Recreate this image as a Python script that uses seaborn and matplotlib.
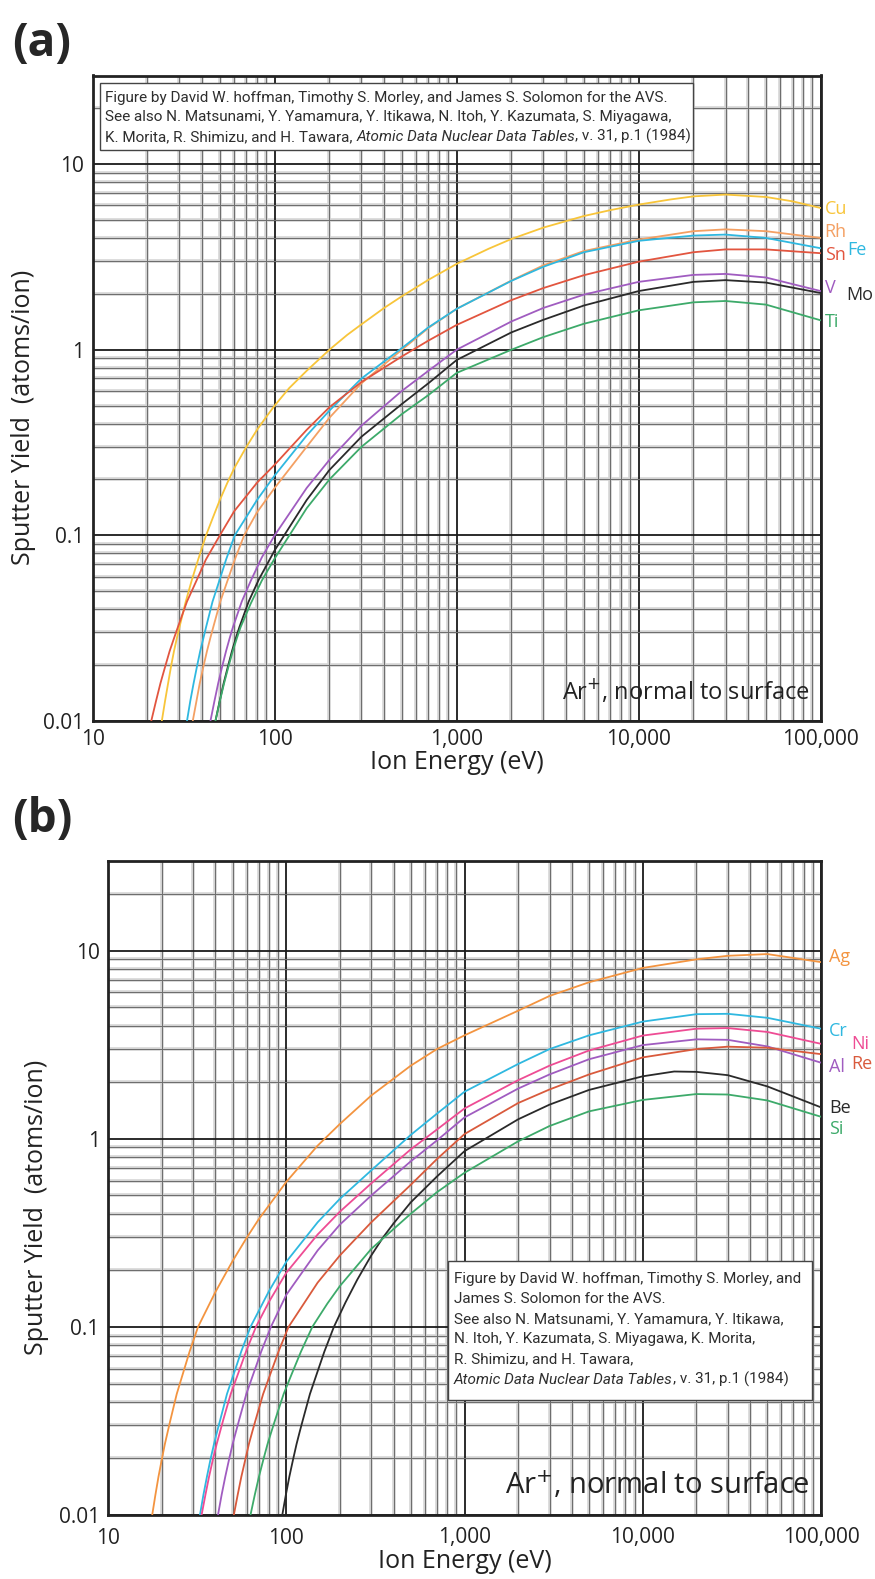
import numpy as np
import pandas as pd
import matplotlib
matplotlib.use("Agg")
import matplotlib.pyplot as plt
from matplotlib.patches import Rectangle
from matplotlib.ticker import FixedLocator, LogLocator, NullFormatter
import seaborn as sns

# ---------------- data: panel (a) ----------------
cu_e = [24, 25, 26, 27, 28, 29, 30, 32.5, 35, 38, 42, 46, 50, 55, 60, 70, 80, 90, 100, 120, 150, 200, 250, 300, 400, 500, 700, 1000, 1500, 2000, 3000, 5000, 7000, 10000, 15000, 20000, 30000, 50000, 70000, 100000]
cu_y = [0.01, 0.0128, 0.016, 0.0198, 0.0238, 0.0278, 0.032, 0.044, 0.057, 0.074, 0.1, 0.126, 0.155, 0.192, 0.23, 0.3, 0.37, 0.435, 0.5, 0.62, 0.77, 1.0, 1.2, 1.37, 1.68, 1.94, 2.38, 2.9, 3.5, 3.95, 4.55, 5.25, 5.65, 6.05, 6.45, 6.7, 6.85, 6.65, 6.3, 5.8]
rh_e = [35.5, 37.2, 38.8, 40.7, 42.5, 44.3, 46, 50.3, 55.1, 60.4, 68, 80, 100, 150, 200, 300, 500, 700, 1000, 2000, 3000, 5000, 10000, 20000, 30000, 50000, 100000]
rh_y = [0.01, 0.0128, 0.016, 0.0198, 0.0238, 0.0279, 0.032, 0.044, 0.057, 0.074, 0.1, 0.133, 0.18, 0.3, 0.43, 0.66, 1.0, 1.31, 1.66, 2.36, 2.85, 3.4, 3.92, 4.35, 4.45, 4.35, 4.0]
fe_e = [33, 34.4, 35.9, 37.5, 39.0, 40.6, 42, 45.6, 49.7, 54.1, 60.4, 80, 100, 150, 200, 300, 500, 700, 1000, 2000, 3000, 5000, 10000, 20000, 30000, 50000, 100000]
fe_y = [0.01, 0.0128, 0.016, 0.0198, 0.0238, 0.0279, 0.032, 0.044, 0.057, 0.074, 0.1, 0.155, 0.21, 0.345, 0.47, 0.7, 1.02, 1.32, 1.66, 2.35, 2.8, 3.35, 3.86, 4.12, 4.17, 4.0, 3.52]
sn_e = [21, 22.3, 23.6, 25.1, 26.5, 28.0, 29.4, 33.0, 37.2, 41.9, 50, 60, 80, 100, 150, 200, 300, 500, 700, 1000, 2000, 3000, 5000, 10000, 20000, 30000, 50000, 100000]
sn_y = [0.01, 0.0128, 0.016, 0.0198, 0.0238, 0.0279, 0.032, 0.044, 0.057, 0.074, 0.1, 0.135, 0.192, 0.24, 0.37, 0.49, 0.67, 0.92, 1.12, 1.36, 1.85, 2.15, 2.52, 2.98, 3.35, 3.47, 3.47, 3.31]
v_e = [44.4, 46.7, 49.0, 51.6, 54.1, 56.6, 59, 66, 74, 85, 100, 150, 200, 300, 500, 700, 1000, 2000, 3000, 5000, 10000, 20000, 30000, 50000, 100000]
v_y = [0.01, 0.0128, 0.016, 0.0198, 0.0238, 0.0279, 0.032, 0.044, 0.057, 0.076, 0.1, 0.18, 0.255, 0.39, 0.6, 0.77, 1.0, 1.42, 1.68, 1.98, 2.32, 2.53, 2.56, 2.45, 2.07]
mo_e = [47.3, 49.9, 52.5, 55.5, 58.3, 61.2, 64, 72, 82, 100, 150, 200, 300, 500, 700, 1000, 2000, 3000, 5000, 10000, 20000, 30000, 50000, 100000]
mo_y = [0.01, 0.0128, 0.016, 0.0198, 0.0238, 0.0279, 0.032, 0.044, 0.058, 0.083, 0.155, 0.225, 0.34, 0.51, 0.66, 0.88, 1.24, 1.45, 1.73, 2.07, 2.32, 2.37, 2.3, 2.02]
ti_e = [47.3, 50.0, 52.8, 55.9, 58.9, 62.0, 65, 74, 85, 100, 150, 200, 300, 500, 700, 1000, 2000, 3000, 5000, 10000, 20000, 30000, 50000, 100000]
ti_y = [0.01, 0.0128, 0.016, 0.0198, 0.0238, 0.0279, 0.032, 0.043, 0.057, 0.075, 0.14, 0.2, 0.3, 0.45, 0.57, 0.75, 1.0, 1.17, 1.38, 1.63, 1.8, 1.83, 1.75, 1.44]

# ---------------- data: panel (b) ----------------
ag_e = [17.7, 18.45, 19.2, 20.05, 20.84, 21.66, 22.4, 24.3, 26.4, 28.7, 32, 40, 50, 60, 70, 100, 150, 200, 300, 500, 700, 1000, 2000, 3000, 5000, 10000, 20000, 30000, 50000, 100000]
ag_y = [0.01, 0.0128, 0.016, 0.0198, 0.0238, 0.0279, 0.032, 0.044, 0.057, 0.074, 0.1, 0.153, 0.224, 0.298, 0.373, 0.59, 0.92, 1.2, 1.7, 2.45, 3.0, 3.55, 4.8, 5.75, 6.8, 8.1, 9.0, 9.4, 9.6, 8.7]
cr_e = [32.8, 34.3, 35.9, 37.6, 39.3, 41.0, 42.6, 46.5, 51.0, 55.9, 63, 80, 100, 150, 200, 300, 500, 700, 1000, 2000, 3000, 5000, 10000, 20000, 30000, 50000, 100000]
cr_y = [0.01, 0.0128, 0.016, 0.0198, 0.0238, 0.0279, 0.032, 0.044, 0.057, 0.074, 0.1, 0.155, 0.222, 0.36, 0.48, 0.68, 1.05, 1.36, 1.78, 2.5, 3.0, 3.55, 4.2, 4.6, 4.62, 4.4, 3.85]
ni_e = [33.5, 35.2, 36.9, 38.8, 40.7, 42.6, 44.3, 48.8, 53.9, 59.5, 67.6, 80, 100, 150, 200, 300, 500, 700, 1000, 2000, 3000, 5000, 10000, 20000, 30000, 50000, 100000]
ni_y = [0.01, 0.0128, 0.016, 0.0198, 0.0238, 0.0279, 0.032, 0.044, 0.057, 0.074, 0.1, 0.136, 0.194, 0.31, 0.41, 0.58, 0.88, 1.12, 1.45, 2.05, 2.45, 2.95, 3.54, 3.85, 3.88, 3.7, 3.2]
al_e = [41.4, 43.4, 45.5, 47.8, 50.0, 52.3, 54.4, 59.7, 65.7, 72.4, 82, 100, 150, 200, 300, 500, 700, 1000, 2000, 3000, 5000, 10000, 20000, 30000, 50000, 100000]
al_y = [0.01, 0.0128, 0.016, 0.0198, 0.0238, 0.0279, 0.032, 0.044, 0.057, 0.074, 0.1, 0.148, 0.255, 0.35, 0.5, 0.76, 0.98, 1.3, 1.85, 2.2, 2.65, 3.15, 3.38, 3.36, 3.1, 2.54]
re_e = [50.8, 53.4, 56.0, 59.0, 61.7, 64.6, 67.3, 74.2, 81.9, 90.5, 103, 150, 200, 300, 500, 700, 1000, 2000, 3000, 5000, 10000, 20000, 30000, 50000, 100000]
re_y = [0.01, 0.0128, 0.016, 0.0198, 0.0238, 0.0279, 0.032, 0.044, 0.057, 0.074, 0.1, 0.172, 0.24, 0.36, 0.57, 0.78, 1.06, 1.55, 1.83, 2.2, 2.71, 3.0, 3.09, 3.05, 2.82]
be_e = [95, 99.5, 104.1, 109.3, 114.2, 119.2, 123.9, 135.8, 149.0, 163.7, 185, 215, 250, 300, 350, 400, 500, 700, 1000, 2000, 3000, 5000, 10000, 15000, 20000, 30000, 50000, 100000]
be_y = [0.01, 0.0128, 0.016, 0.0198, 0.0238, 0.0279, 0.032, 0.044, 0.057, 0.074, 0.1, 0.135, 0.178, 0.24, 0.3, 0.355, 0.46, 0.63, 0.86, 1.27, 1.52, 1.82, 2.15, 2.28, 2.27, 2.18, 1.9, 1.47]
si_e = [63, 66.6, 70.3, 74.5, 78.5, 82.7, 86.6, 96.7, 108, 121, 140, 170, 200, 300, 500, 700, 1000, 2000, 3000, 5000, 10000, 20000, 30000, 50000, 100000]
si_y = [0.01, 0.0128, 0.016, 0.0198, 0.0238, 0.0279, 0.032, 0.044, 0.057, 0.074, 0.1, 0.133, 0.165, 0.26, 0.4, 0.52, 0.66, 0.97, 1.17, 1.4, 1.61, 1.73, 1.72, 1.6, 1.31]

x_ticks = [10, 100, 1000, 10000, 100000]
x_ticklabels = ["10", "100", "1,000", "10,000", "100,000"]
y_ticks = [0.01, 0.1, 1, 10]
y_ticklabels = ["0.01", "0.1", "1", "10"]

series_a = [("Cu", cu_e, cu_y), ("Rh", rh_e, rh_y), ("Fe", fe_e, fe_y), ("Sn", sn_e, sn_y),
            ("V", v_e, v_y), ("Mo", mo_e, mo_y), ("Ti", ti_e, ti_y)]
series_b = [("Ag", ag_e, ag_y), ("Cr", cr_e, cr_y), ("Ni", ni_e, ni_y), ("Al", al_e, al_y),
            ("Re", re_e, re_y), ("Be", be_e, be_y), ("Si", si_e, si_y)]

colors = {"Cu": "#F8C53A", "Rh": "#F4A063", "Fe": "#2FB8E0", "Sn": "#E2553F",
          "V": "#A05CC0", "Mo": "#2a2a2a", "Ti": "#3DAA6A",
          "Ag": "#F39440", "Cr": "#2FB8E0", "Ni": "#EE4C94", "Al": "#A05CC0",
          "Re": "#D95A3C", "Be": "#2a2a2a", "Si": "#3DAA6A"}

# label placement: (x offset in px from right axis, y value)
labels_a = [("Cu", 4, 5.7), ("Rh", 4, 4.3), ("Fe", 27, 3.45), ("Sn", 4, 3.25),
            ("V", 4, 2.14), ("Mo", 26, 1.96), ("Ti", 4, 1.41)]
labels_b = [("Ag", 8, 9.3), ("Cr", 8, 3.74), ("Ni", 30, 3.18), ("Al", 8, 2.42),
            ("Re", 30, 2.5), ("Be", 8, 1.45), ("Si", 8, 1.13)]

W, H = 875, 1579


def fx(x):
    return x / W


def fy(y):
    return 1 - y / H


sns.set_theme(style="white")
plt.rcParams['font.family'] = ['Open Sans', 'DejaVu Sans']
plt.rcParams['mathtext.fontset'] = 'dejavusans'

fig = plt.figure(figsize=(W / 100, H / 100), dpi=100)
fig.patch.set_facecolor("white")

ax_a = fig.add_axes([fx(92.6), fy(721), fx(820.7) - fx(92.6), fy(75.5) - fy(721)])
ax_b = fig.add_axes([fx(108), fy(1515), fx(821) - fx(108), fy(861) - fy(1515)])


def long_df(series):
    rows = []
    for name, e, y in series:
        for ee, yy in zip(e, y):
            rows.append({"E": ee, "Y": yy, "el": name})
    return pd.DataFrame(rows)


def style_axes(ax, xpad, ylab_x):
    ax.set_xscale("log")
    ax.set_yscale("log")
    ax.set_xlim(10, 100000)
    ax.set_ylim(0.01, 30)
    ax.xaxis.set_major_locator(FixedLocator(x_ticks))
    ax.set_xticklabels(x_ticklabels)
    ax.yaxis.set_major_locator(FixedLocator(y_ticks))
    ax.set_yticklabels(y_ticklabels)
    ax.xaxis.set_minor_locator(LogLocator(base=10, subs=np.arange(2, 10), numticks=20))
    ax.yaxis.set_minor_locator(LogLocator(base=10, subs=np.arange(2, 10), numticks=20))
    ax.xaxis.set_minor_formatter(NullFormatter())
    ax.yaxis.set_minor_formatter(NullFormatter())
    # light bands under the thin minor grid lines (graph-paper look)
    for v in ax.xaxis.get_minorticklocs():
        if 10 < v < 100000:
            ax.axvline(v, color="#d6d6d6", lw=2.6, zorder=0.2)
    for v in ax.yaxis.get_minorticklocs():
        if 0.01 < v < 30:
            ax.axhline(v, color="#d6d6d6", lw=2.6, zorder=0.2)
    ax.grid(which="minor", color="#6e6e6e", lw=0.75, zorder=0.5)
    ax.grid(which="major", color="#1a1a1a", lw=1.3, zorder=0.6)
    ax.set_axisbelow(True)
    ax.tick_params(axis="y", which="both", length=0, labelsize=15, colors="#222222", pad=6)
    ax.tick_params(axis="x", which="both", length=0, labelsize=15, colors="#222222", pad=xpad)
    for s in ax.spines.values():
        s.set_color("#222222")
        s.set_linewidth(2.0)
    ax.set_xlabel("Ion Energy (eV)", fontsize=18, color="#222222", labelpad=0)
    ax.set_ylabel("Sputter Yield  (atoms/ion)", fontsize=18, color="#222222")
    ax.yaxis.set_label_coords(ylab_x, 0.47)


for ax, series, labels, xpad, ylx in [(ax_a, series_a, labels_a, 6, -0.078),
                                      (ax_b, series_b, labels_b, 9, -0.083)]:
    df = long_df(series)
    pal = {n: colors[n] for n, _, _ in series}
    sns.lineplot(data=df, x="E", y="Y", hue="el", palette=pal, estimator=None,
                 legend=False, lw=1.3, ax=ax, zorder=3)
    style_axes(ax, xpad, ylx)
    for name, dx, yv in labels:
        ax.annotate(name, xy=(1, yv), xycoords=("axes fraction", "data"),
                    xytext=(dx, 0), textcoords="offset pixels",
                    ha="left", va="center", fontsize=13, color=colors[name],
                    annotation_clip=False)

# panel tags
fig.text(fx(12), fy(44), "(a)", fontsize=33, fontweight="bold", ha="left", va="center")
fig.text(fx(12), fy(820), "(b)", fontsize=33, fontweight="bold", ha="left", va="center")

# "Ar+, normal to surface"
ax_a.text(0.985, 0.025, "Ar$^{+}$, normal to surface", transform=ax_a.transAxes,
          ha="right", va="bottom", fontsize=17, color="#222222", zorder=5)
ax_b.text(0.985, 0.022, "Ar$^{+}$, normal to surface", transform=ax_b.transAxes,
          ha="right", va="bottom", fontsize=21, color="#222222", zorder=5)

# citation boxes (figure level, drawn above the axes)
fig.add_artist(Rectangle((fx(100), fy(150)), fx(693) - fx(100), fy(83) - fy(150),
                         transform=fig.transFigure, facecolor="white",
                         edgecolor="#444444", lw=1.0, zorder=4))
fig.add_artist(Rectangle((fx(448), fy(1400)), fx(812) - fx(448), fy(1261) - fy(1400),
                         transform=fig.transFigure, facecolor="white",
                         edgecolor="#444444", lw=1.0, zorder=4))

box_font = ['Roboto', 'DejaVu Sans']
tc = "#2e2e2e"
bfs = 11.0
renderer = fig.canvas.get_renderer()


def line_parts(x_px, y_px, parts):
    """parts: list of (text, italic) drawn one after the other on one line."""
    x = fx(x_px)
    for txt, ital in parts:
        t = fig.text(x, fy(y_px), txt, fontsize=bfs, family=box_font, color=tc,
                     style="italic" if ital else "normal",
                     ha="left", va="baseline", zorder=6)
        bb = t.get_window_extent(renderer)
        x = bb.x1 / fig.bbox.width


lines_a = [[("Figure by David W. hoffman, Timothy S. Morley, and James S. Solomon for the AVS.", False)],
           [("See also N. Matsunami, Y. Yamamura, Y. Itikawa, N. Itoh, Y. Kazumata, S. Miyagawa,", False)],
           [("K. Morita, R. Shimizu, and H. Tawara, ", False),
            ("Atomic Data Nuclear Data Tables", True), (", v. 31, p.1 (1984)", False)]]
for parts, y in zip(lines_a, [102, 121, 141]):
    line_parts(105, y, parts)

lines_b = [[("Figure by David W. hoffman, Timothy S. Morley, and", False)],
           [("James S. Solomon for the AVS.", False)],
           [("See also N. Matsunami, Y. Yamamura, Y. Itikawa,", False)],
           [("N. Itoh, Y. Kazumata, S. Miyagawa, K. Morita,", False)],
           [("R. Shimizu, and H. Tawara,", False)],
           [("Atomic Data Nuclear Data Tables", True), (", v. 31, p.1 (1984)", False)]]
for parts, y in zip(lines_b, [1283, 1303, 1323, 1343, 1363, 1384]):
    line_parts(454, y, parts)

fig.savefig("out.png", dpi=100, facecolor="white")
